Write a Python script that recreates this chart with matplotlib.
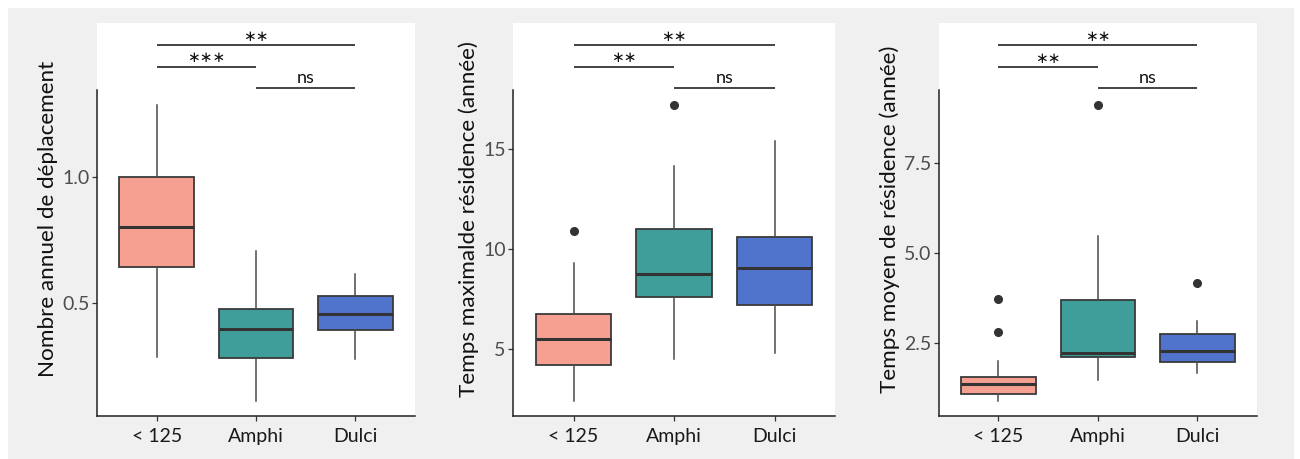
import matplotlib
matplotlib.use("Agg")
import matplotlib.pyplot as plt
from matplotlib.patches import Rectangle

# ---------------- data ----------------
categories = ["< 125", "Amphi", "Dulci"]
box_colors = ["#F5A091", "#3F9E99", "#5073CC"]
sig_pairs = [(0, 1), (1, 2), (0, 2)]

# Panel 1 : Nombre annuel de déplacement
p1_label = "Nombre annuel de déplacement"
p1_whislo = [0.286, 0.110, 0.275]
p1_q1 = [0.642, 0.279, 0.393]
p1_med = [0.799, 0.397, 0.455]
p1_q3 = [1.000, 0.474, 0.527]
p1_whishi = [1.284, 0.706, 0.613]
p1_fliers = [[], [], []]
p1_ticks = [0.5, 1.0]
p1_ticklabels = ["0.5", "1.0"]
p1_sig = ["***", "ns", "**"]
p1_sig_y = [1.437, 1.351, 1.523]

# Panel 2 : Temps maximal de résidence
p2_label = "Temps maximalde résidence (année)"
p2_whislo = [2.42, 4.50, 4.83]
p2_q1 = [4.23, 7.62, 7.23]
p2_med = [5.52, 8.77, 9.08]
p2_q3 = [6.77, 11.03, 10.60]
p2_whishi = [9.33, 14.17, 15.38]
p2_fliers = [[10.92], [17.18], []]
p2_ticks = [5, 10, 15]
p2_ticklabels = ["5", "10", "15"]
p2_sig = ["**", "ns", "**"]
p2_sig_y = [19.12, 18.03, 20.20]

# Panel 3 : Temps moyen de résidence
p3_label = "Temps moyen de résidence (année)"
p3_whislo = [0.876, 1.46, 1.65]
p3_q1 = [1.08, 2.09, 1.95]
p3_med = [1.34, 2.22, 2.28]
p3_q3 = [1.553, 3.68, 2.75]
p3_whishi = [1.98, 5.48, 3.10]
p3_fliers = [[3.72, 2.81], [9.12], [4.15]]
p3_ticks = [2.5, 5.0, 7.5]
p3_ticklabels = ["2.5", "5.0", "7.5"]
p3_sig = ["**", "ns", "**"]
p3_sig_y = [10.19, 9.59, 10.80]

panels = [
    dict(label=p1_label, whislo=p1_whislo, q1=p1_q1, med=p1_med, q3=p1_q3,
         whishi=p1_whishi, fliers=p1_fliers, ticks=p1_ticks,
         ticklabels=p1_ticklabels, sig=p1_sig, sig_y=p1_sig_y),
    dict(label=p2_label, whislo=p2_whislo, q1=p2_q1, med=p2_med, q3=p2_q3,
         whishi=p2_whishi, fliers=p2_fliers, ticks=p2_ticks,
         ticklabels=p2_ticklabels, sig=p2_sig, sig_y=p2_sig_y),
    dict(label=p3_label, whislo=p3_whislo, q1=p3_q1, med=p3_med, q3=p3_q3,
         whishi=p3_whishi, fliers=p3_fliers, ticks=p3_ticks,
         ticklabels=p3_ticklabels, sig=p3_sig, sig_y=p3_sig_y),
]

# ---------------- layout ----------------
W, H = 1300, 459
plt.rcParams["font.family"] = ["Lato", "DejaVu Sans"]

fig = plt.figure(figsize=(W / 100, H / 100), dpi=100, facecolor="white")
fig.add_artist(Rectangle((8 / W, 0), 1286 / W, (H - 8) / H,
                         transform=fig.transFigure, facecolor="#F0F0F0",
                         edgecolor="none", zorder=-10))

ax_left_px = [97, 513.3, 938.7]
ax_right_px = [415, 835, 1257]
ax_top_px, ax_bot_px = 23, 415.7
ylims = [(0.052, 1.610), (1.68, 21.3), (0.465, 11.41)]
spine_tops = [1.344, 17.95, 9.54]

for i, p in enumerate(panels):
    l, r = ax_left_px[i] / W, ax_right_px[i] / W
    b, t = 1 - ax_bot_px / H, 1 - ax_top_px / H
    ax = fig.add_axes([l, b, r - l, t - b])
    ax.set_facecolor("white")

    stats = []
    for j in range(len(categories)):
        stats.append(dict(med=p["med"][j], q1=p["q1"][j], q3=p["q3"][j],
                          whislo=p["whislo"][j], whishi=p["whishi"][j],
                          fliers=p["fliers"][j], label=categories[j]))
    bp = ax.bxp(stats, positions=[1, 2, 3], widths=0.75, patch_artist=True,
                showcaps=False,
                boxprops=dict(edgecolor="#3a3a3a", linewidth=1.3),
                medianprops=dict(color="#333333", linewidth=2.2, solid_capstyle="butt"),
                whiskerprops=dict(color="#4a4a4a", linewidth=1.1),
                flierprops=dict(marker="o", markerfacecolor="#333333",
                                markeredgecolor="#333333", markersize=5.5))
    for patch, c in zip(bp["boxes"], box_colors):
        patch.set_facecolor(c)

    ax.set_xlim(0.4, 3.6)
    ax.set_ylim(*ylims[i])
    ax.set_xticks([1, 2, 3])
    ax.set_xticklabels(categories, fontsize=14, color="#1a1a1a")
    ax.set_yticks(p["ticks"])
    ax.set_yticklabels(p["ticklabels"], fontsize=14, color="#4d4d4d")
    ax.tick_params(axis="both", length=3.5, width=0.9, color="#333333")
    ax.tick_params(axis="x", pad=5)
    ax.tick_params(axis="y", pad=2)
    ax.set_ylabel(p["label"], fontsize=16.2, color="#111111", labelpad=3)

    for s in ["top", "right"]:
        ax.spines[s].set_visible(False)
    for s in ["left", "bottom"]:
        ax.spines[s].set_color("#222222")
        ax.spines[s].set_linewidth(1.1)
    ax.spines["left"].set_bounds(ylims[i][0], spine_tops[i])

    # significance brackets
    for (a, c), txt, yv in zip(sig_pairs, p["sig"], p["sig_y"]):
        ax.plot([a + 1, c + 1], [yv, yv], color="#111111", linewidth=1.1,
                clip_on=False, solid_capstyle="butt")
        xm = (a + c) / 2 + 1
        if "*" in txt:
            ax.annotate("\u2217" * len(txt), xy=(xm, yv), xytext=(0, 6.3),
                        textcoords="offset points", ha="center", va="center",
                        fontsize=11, color="#111111", family="DejaVu Sans")
        else:
            ax.annotate(txt, xy=(xm, yv), xytext=(0, 2),
                        textcoords="offset points", ha="center", va="bottom",
                        fontsize=13, color="#111111")

fig.savefig("out.png", dpi=100, facecolor=fig.get_facecolor())
